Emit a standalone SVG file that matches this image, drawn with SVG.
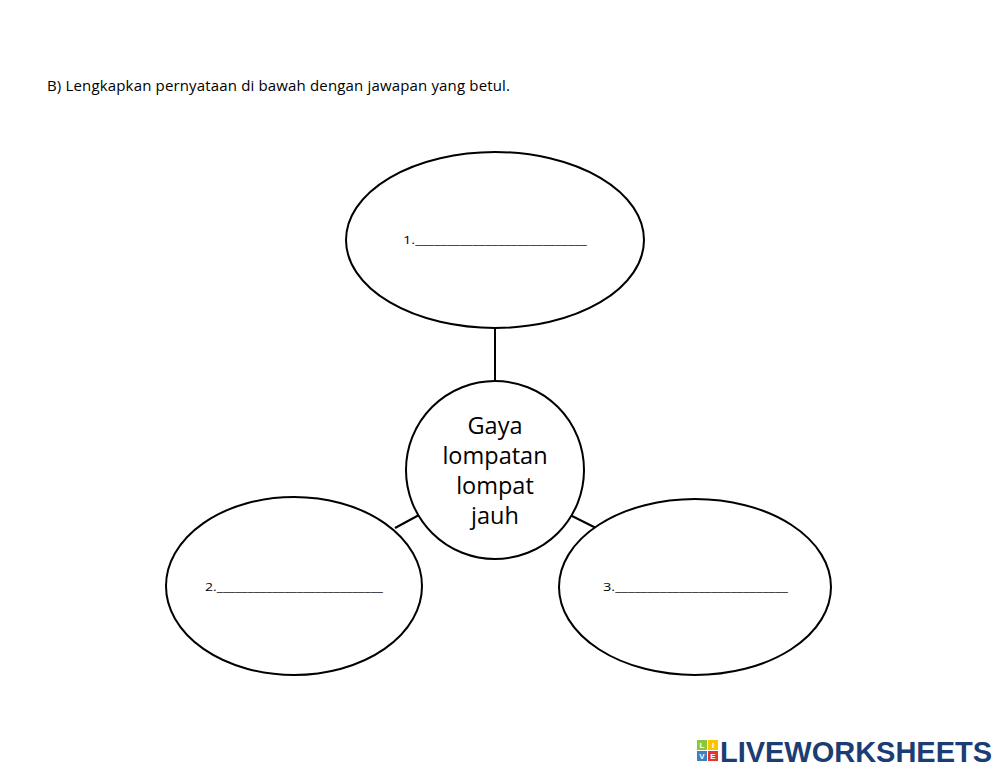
<svg xmlns="http://www.w3.org/2000/svg" width="1000" height="772" viewBox="0 0 1000 772">
<style>
.s{fill:#fff;stroke:#000;stroke-width:2}
.c{stroke:#000;stroke-width:2;fill:none}
text{font-family:"Open Sans","Liberation Sans",sans-serif;fill:#000}
.l{font-size:10px}
.m{font-size:23.5px;text-anchor:middle}
.k{font-family:"Liberation Sans",sans-serif;font-size:8px;font-weight:bold;fill:#fff;text-anchor:middle}
</style>
<rect width="1000" height="772" fill="#fff"/>
<text x="47" y="91" font-size="15" textLength="463">B) Lengkapkan pernyataan di bawah dengan jawapan yang betul.</text>
<g id="connectors">
<line class="c" x1="495" y1="328" x2="495" y2="381"/>
<line class="c" x1="395" y1="528" x2="419" y2="515"/>
<line class="c" x1="570" y1="515" x2="596" y2="528"/>
</g>
<g id="n1"><ellipse class="s" cx="495" cy="240" rx="149" ry="88"/><text class="l" x="403" y="244" textLength="184" lengthAdjust="spacingAndGlyphs">1.___________________________</text></g>
<g id="center"><circle class="s" cx="495" cy="470" r="89"/>
<text class="m" x="495" y="434">Gaya</text><text class="m" x="495" y="464">lompatan</text><text class="m" x="495" y="494">lompat</text><text class="m" x="495" y="524">jauh</text></g>
<g id="n2"><ellipse class="s" cx="294" cy="586" rx="128" ry="89"/><text class="l" x="205" y="591" textLength="178" lengthAdjust="spacingAndGlyphs">2.___________________________</text></g>
<g id="n3"><ellipse class="s" cx="695" cy="587" rx="136" ry="88"/><text class="l" x="603" y="591" textLength="185" lengthAdjust="spacingAndGlyphs">3.___________________________</text></g>
<g id="logo">
<rect x="697" y="740" width="10" height="10" fill="#8cc63f"/><rect x="708" y="740" width="10" height="10" fill="#f7c600"/>
<rect x="697" y="751" width="10" height="10" fill="#3b82c4"/><rect x="708" y="751" width="10" height="10" fill="#e5352b"/>
<text class="k" x="702" y="748">L</text><text class="k" x="713" y="748">I</text><text class="k" x="702" y="759">V</text><text class="k" x="713" y="759">E</text>
<text x="720" y="762" font-size="29" font-weight="bold" style="font-family:'Liberation Sans',sans-serif;fill:#1b3d73" textLength="272">LIVEWORKSHEETS</text>
</g>
</svg>
